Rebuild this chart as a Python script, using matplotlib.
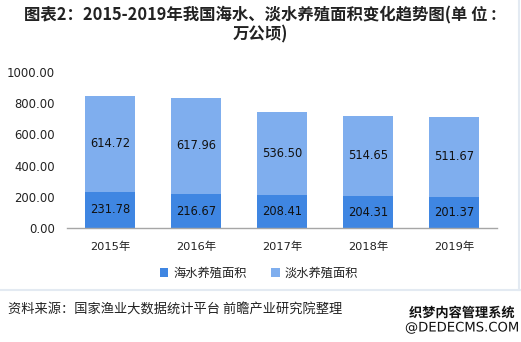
import matplotlib
matplotlib.use("Agg")
import matplotlib.pyplot as plt
import matplotlib.patheffects as pe
import numpy as np

plt.rcParams['font.family'] = ['DejaVu Sans', 'Noto Sans CJK SC']

years = ['2015年', '2016年', '2017年', '2018年', '2019年']
sea_area = [231.78, 216.67, 208.41, 204.31, 201.37]
fresh_area = [614.72, 617.96, 536.50, 514.65, 511.67]
series_names = ['海水养殖面积', '淡水养殖面积']
yticks = [0, 200, 400, 600, 800, 1000]

title = '图表2：2015-2019年我国海水、淡水养殖面积变化趋势图(单 位 :\n万公顷)'
source = '资料来源：国家渔业大数据统计平台 前瞻产业研究院整理'

c_sea = '#3F86E2'
c_fresh = '#7FAEEE'

W, H = 521, 342
fig = plt.figure(figsize=(W / 100, H / 100), dpi=100)
ax = fig.add_axes([67 / W, 1 - 228 / H, 430 / W, 156 / H])

x = np.arange(len(years))
width = 0.58
ax.bar(x, sea_area, width, color=c_sea, label=series_names[0], zorder=2)
ax.bar(x, fresh_area, width, bottom=sea_area, color=c_fresh,
       label=series_names[1], zorder=2)

for xi, s, f in zip(x, sea_area, fresh_area):
    ax.text(xi, s / 2, f'{s:.2f}', ha='center', va='center', fontsize=8.3,
            color='#111111')
    ax.text(xi, s + f / 2, f'{f:.2f}', ha='center', va='center', fontsize=8.3,
            color='#111111')

ax.set_xlim(-0.5, len(years) - 0.5)
ax.set_ylim(0, 1000)
ax.set_yticks(yticks)
ax.set_yticklabels([f'{v:.2f}' for v in yticks], fontsize=8.4, color='#222222')
ax.set_xticks(x)
ax.set_xticklabels(years, fontsize=8.2, color='#222222')
ax.tick_params(axis='both', length=0)
ax.tick_params(axis='x', pad=10)
ax.tick_params(axis='y', pad=8.5)
for side in ['top', 'right', 'left']:
    ax.spines[side].set_visible(False)
ax.spines['bottom'].set_color('#A6A6A6')
ax.spines['bottom'].set_linewidth(1.0)

leg = fig.legend(loc='center', bbox_to_anchor=(0.497, 1 - 273 / H), ncol=2,
                 frameon=False, fontsize=8.8, handlelength=0.7,
                 handleheight=0.7, handletextpad=0.4, columnspacing=2.0)
for t in leg.get_texts():
    t.set_color('#222222')

fig.text(0.5, 1 - 25 / H, title, ha='center', va='center', fontsize=11.8,
         fontweight='bold', color='#222222', linespacing=1.05,
         family=['Noto Sans CJK SC', 'DejaVu Sans'])

fig.add_artist(plt.Line2D([0, 1], [1 - 290 / H, 1 - 290 / H],
                          transform=fig.transFigure, color='#E3EAF2', lw=1.5))
fig.add_artist(plt.Line2D([518.5 / W, 518.5 / W], [1 - 290 / H, 1],
                          transform=fig.transFigure, color='#E3EAF2', lw=1.5))

fig.text(8 / W, 1 - 310 / H, source, ha='left', va='center', fontsize=9.5,
         color='#222222', family=['Noto Sans CJK SC', 'DejaVu Sans'])

stroke = [pe.withStroke(linewidth=2, foreground='white')]
fig.text(462 / W, 1 - 313 / H, '织梦内容管理系统', ha='center', va='center',
         fontsize=9.5, fontweight='bold', color='#111111',
         family=['Noto Sans CJK SC', 'DejaVu Sans'], path_effects=stroke)
fig.text(462 / W, 1 - 328 / H, '@DEDECMS.COM', ha='center', va='center',
         fontsize=9.5, color='#111111', path_effects=stroke)

fig.savefig('out.png', dpi=100)
